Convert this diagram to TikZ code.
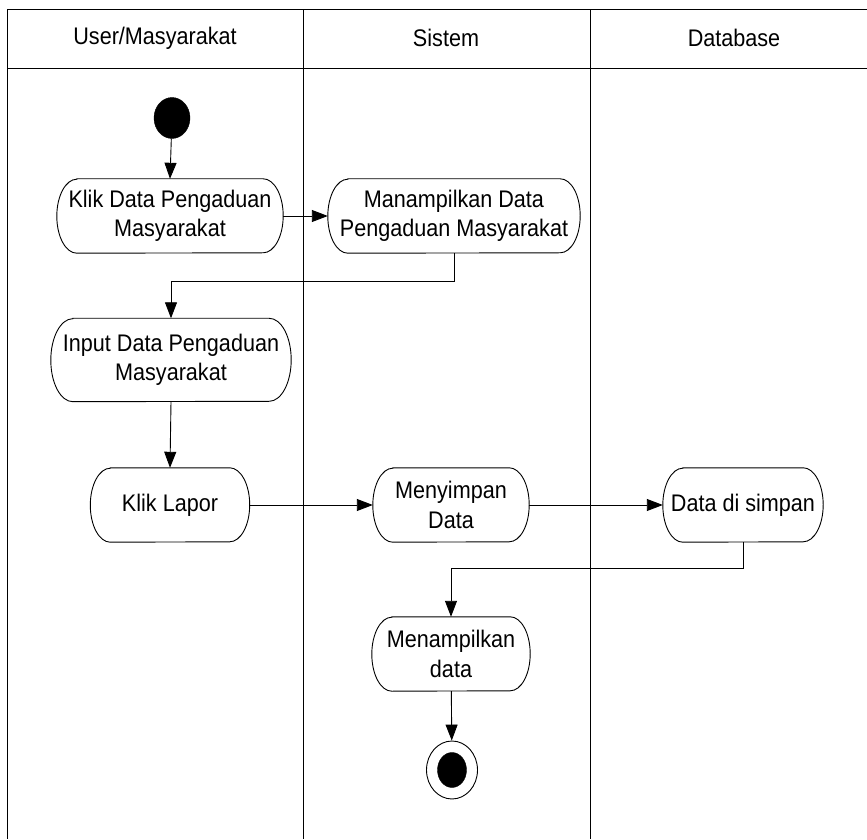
\documentclass[tikz,border=0pt]{standalone}
\usepackage{fontspec}
\setmainfont[FakeStretch=0.9]{Liberation Sans}
\usetikzlibrary{arrows.meta,shapes.geometric}
\tikzset{
  act/.style={draw=none, align=center, inner sep=0pt, font=\fontsize{24}{29.5}\selectfont},
  hdr/.style={inner sep=0pt, font=\fontsize{24}{28}\selectfont},
  flow/.style={-{Triangle[length=16pt,width=12pt]}, line width=0.9pt},
  lane/.style={line width=1pt},
}
\newcommand\pillshape[3]{\draw[line width=0.9pt] ([xshift=#2]#1.north west) -- ([xshift=-#2]#1.north east) arc[start angle=90,end angle=-90,x radius=#2,y radius=#3] -- ([xshift=#2]#1.south west) arc[start angle=270,end angle=90,x radius=#2,y radius=#3] -- cycle;}
\begin{document}
\begin{tikzpicture}[x=1pt,y=1pt]
\useasboundingbox (0,0) rectangle (867,839);
% swimlane frame
\draw[lane] (7,829) -- (867,829);
\draw[lane] (7,770) -- (867,770);
\draw[lane] (7,829) -- (7,0);
\draw[lane] (303,829) -- (303,0);
\draw[lane] (590,829) -- (590,0);
\node[hdr] (h1) at (155,801) {User/Masyarakat};
\node[hdr] (h2) at (446,801) {Sistem};
\node[hdr] (h3) at (734,801) {Database};
% start
\node[ellipse, fill=black, draw, inner sep=0pt, minimum width=36pt, minimum height=41pt] (start) at (172,721) {};
% activities
\node[act, minimum width=226pt, minimum height=74pt] (klik) at (170,623) {Klik Data Pengaduan\\Masyarakat};
\pillshape{klik}{20pt}{37pt}
\node[act, minimum width=252pt, minimum height=74pt] (tampil) at (454,623) {Manampilkan Data\\Pengaduan Masyarakat};
\pillshape{tampil}{20pt}{37pt}
\node[act, minimum width=240pt, minimum height=83pt] (input) at (171,479) {Input Data Pengaduan\\Masyarakat};
\pillshape{input}{22pt}{41.5pt}
\node[act, minimum width=159pt, minimum height=74pt] (lapor) at (170,334) {Klik Lapor};
\pillshape{lapor}{20pt}{37pt}
\node[act, minimum width=156pt, minimum height=74pt] (simpan) at (451,334) {Menyimpan\\Data};
\pillshape{simpan}{20pt}{37pt}
\node[act, minimum width=160pt, minimum height=74pt] (disimpan) at (743,334) {Data di simpan};
\pillshape{disimpan}{20pt}{37pt}
\node[act, minimum width=158pt, minimum height=74pt] (tampil2) at (451,185) {Menampilkan\\data};
\pillshape{tampil2}{20pt}{37pt}
% end
\node[ellipse, draw, line width=0.9pt, inner sep=0pt, minimum width=51pt, minimum height=58pt] (endo) at (452,69) {};
\node[ellipse, draw, fill=black, inner sep=0pt, minimum width=29pt, minimum height=35pt] (endi) at (452,69) {};
% flows
\draw[flow] (start) -- (klik.north);
\draw[flow] (klik) -- (tampil);
\draw[flow] (tampil.south) -- ++(0,-28) -| (input.north);
\draw[flow] (input.south) -- (lapor.north);
\draw[flow] (lapor) -- (simpan);
\draw[flow] (simpan) -- (disimpan);
\draw[flow] (disimpan.south) -- ++(0,-26) -| (tampil2.north);
\draw[flow] (tampil2) -- (endo);
\end{tikzpicture}
\end{document}
